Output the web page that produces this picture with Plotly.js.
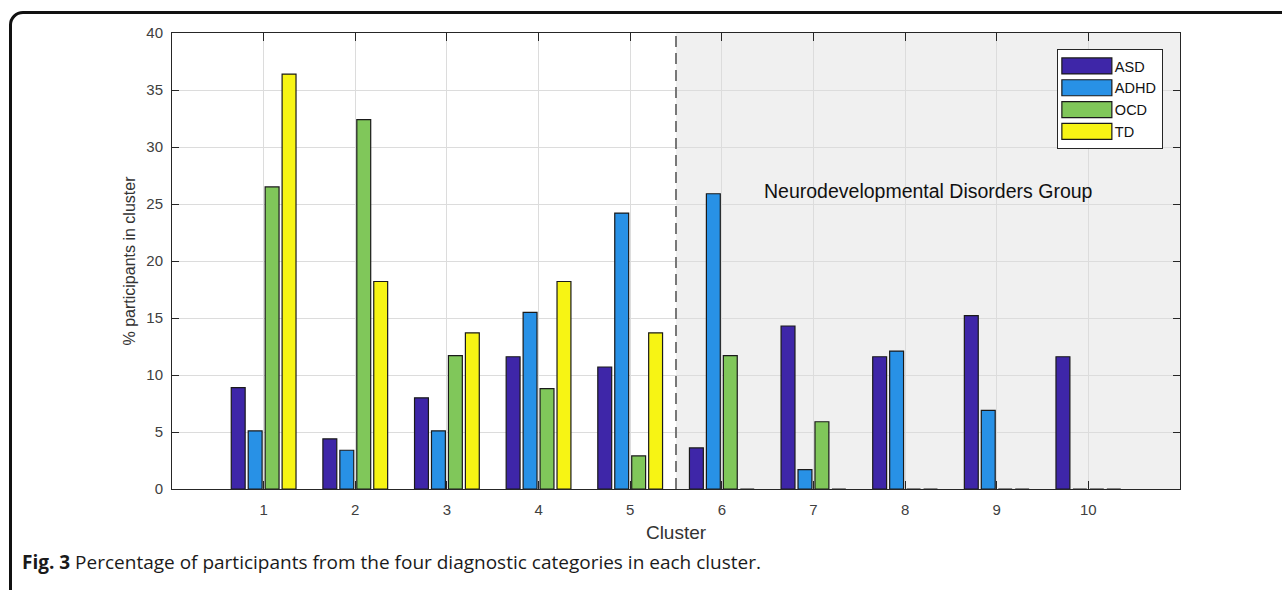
<!DOCTYPE html>
<html>
<head>
<meta charset="utf-8">
<script src="https://cdn.plot.ly/plotly-3.0.1.min.js"></script>
<style>
  html, body { margin: 0; padding: 0; background: #fff; }
  #wrap { position: relative; width: 1282px; height: 590px; overflow: hidden; }
  #chart { width: 1282px; height: 590px; }
  #frame { position: absolute; left: 9px; top: 11px; width: 1320px; height: 640px;
           border: 3px solid #111; border-radius: 14px; pointer-events: none; box-sizing: border-box; }
</style>
</head>
<body>
<div id="wrap">
  <div id="chart"></div>
  <div id="frame"></div>
</div>
<script>
// ---- data ----
const clusters = [1, 2, 3, 4, 5, 6, 7, 8, 9, 10];
const tickLabels = ['1', '2', '3', '4', '5', '6', '7', '8', '9', '10'];
const seriesNames = ['ASD', 'ADHD', 'OCD', 'TD'];
const asd  = [8.9, 4.4, 8.0, 11.6, 10.7, 3.6, 14.3, 11.6, 15.2, 11.6];
const adhd = [5.1, 3.4, 5.1, 15.5, 24.2, 25.9, 1.7, 12.1, 6.9, 0];
const ocd  = [26.5, 32.4, 11.7, 8.8, 2.9, 11.7, 5.9, 0, 0, 0];
const td   = [36.4, 18.2, 13.7, 18.2, 13.7, 0, 0, 0, 0, 0];
const groupStart = 5.5;   // boundary of the neurodevelopmental group region
const groupEnd = 11;
const groupLabel = 'Neurodevelopmental Disorders Group';

// ---- styles ----
const colors = ['#3e26a8', '#2891e6', '#80c75a', '#f7f414'];
const seriesValues = [asd, adhd, ocd, td];

const traces = seriesNames.map((name, i) => ({
  type: 'bar',
  name: name,
  x: clusters,
  y: seriesValues[i],
  marker: { color: colors[i], line: { color: '#1a1a1a', width: 1.2 } },
  hoverinfo: 'x+y+name'
}));

const axisColor = '#262626';
const gridColor = '#dcdcdc';

const layout = {
  width: 1282,
  height: 590,
  margin: { l: 172, r: 102, t: 33, b: 101 },
  paper_bgcolor: '#ffffff',
  plot_bgcolor: '#ffffff',
  barmode: 'group',
  bargap: 0.26,
  bargroupgap: 0.18,
  font: { family: 'Liberation Sans, Arial, sans-serif', color: '#262626' },
  showlegend: true,
  legend: {
    x: 0.983, xanchor: 'right',
    y: 0.965, yanchor: 'top',
    bgcolor: '#ffffff',
    bordercolor: axisColor,
    borderwidth: 1,
    font: { size: 14.5, color: '#111' },
    itemwidth: 47,
    tracegroupgap: 0
  },
  xaxis: {
    range: [0, 11],
    tickmode: 'array',
    tickvals: clusters,
    ticktext: tickLabels,
    ticks: 'inside',
    ticklen: 8,
    tickcolor: axisColor,
    ticklabelstandoff: 7,
    showline: true,
    linecolor: axisColor,
    linewidth: 1,
    mirror: 'ticks',
    showgrid: true,
    gridcolor: gridColor,
    gridwidth: 1,
    zeroline: false,
    tickfont: { size: 15, color: '#404040' },
    title: { text: 'Cluster', font: { size: 19, color: '#333' }, standoff: 8 }
  },
  yaxis: {
    range: [0, 40],
    tickmode: 'linear',
    tick0: 0,
    dtick: 5,
    ticks: 'inside',
    ticklen: 7,
    tickcolor: axisColor,
    ticklabelstandoff: 5,
    showline: true,
    linecolor: axisColor,
    linewidth: 1,
    mirror: 'ticks',
    showgrid: true,
    gridcolor: gridColor,
    gridwidth: 1,
    zeroline: false,
    tickfont: { size: 15, color: '#404040' },
    title: { text: '% participants in cluster', font: { size: 16, color: '#333' }, standoff: 6 }
  },
  shapes: [
    {
      type: 'rect', xref: 'x', yref: 'paper',
      x0: groupStart, x1: groupEnd, y0: 0, y1: 1,
      fillcolor: '#f0f0f0', line: { width: 0 }, layer: 'below'
    },
    {
      type: 'line', xref: 'x', yref: 'paper',
      x0: groupStart, x1: groupStart, y0: 0, y1: 1,
      line: { color: '#6a6a6a', width: 1.8, dash: '11px,6px' }, layer: 'above'
    }
  ],
  annotations: [
    {
      x: (groupStart + groupEnd) / 2 + 0.01, y: 26.1,
      xref: 'x', yref: 'y',
      text: groupLabel, showarrow: false,
      xanchor: 'center', yanchor: 'middle',
      font: { size: 19.5, color: '#111', family: 'Liberation Sans, Arial, sans-serif' }
    },
    {
      x: -0.1505, y: -0.16,
      xref: 'paper', yref: 'paper',
      text: '<b>Fig. 3</b> Percentage of participants from the four diagnostic categories in each cluster.',
      showarrow: false,
      xanchor: 'left', yanchor: 'middle',
      font: { size: 19, color: '#1a1a1a', family: 'Open Sans, sans-serif' }
    }
  ]
};

function widenLegendSwatches(gd) {
  const items = gd.querySelectorAll('.legend g.traces');
  items.forEach(item => {
    const txt = item.querySelector('text.legendtext');
    const path = item.querySelector('.legendpoints path');
    if (!txt || !path) return;
    const tx = parseFloat(txt.getAttribute('x')) || 0;
    const m = item.getCTM().inverse().multiply(path.getCTM());
    const xr = (tx - 3 - m.e) / m.a;
    const xl = (tx - 3 - 50 - m.e) / m.a;
    path.setAttribute('d', 'M' + xl + ',-8H' + xr + 'V8H' + xl + 'Z');
  });
}

Plotly.newPlot('chart', traces, layout, { displayModeBar: false, staticPlot: true })
  .then(gd => widenLegendSwatches(gd));
</script>
</body>
</html>
